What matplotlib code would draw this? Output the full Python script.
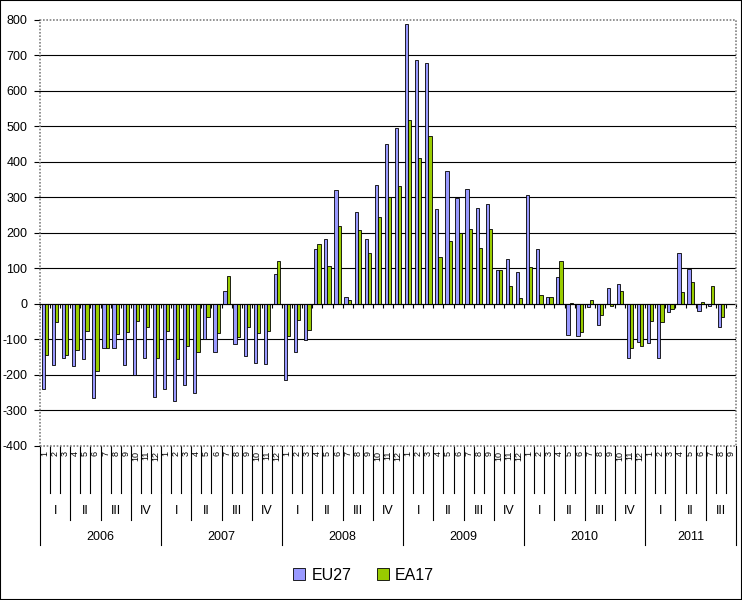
import matplotlib
matplotlib.use("Agg")
import matplotlib.pyplot as plt
import matplotlib.transforms as mtransforms
from matplotlib.patches import Patch, Rectangle
import numpy as np

plt.rcParams['font.family'] = ['Liberation Sans', 'DejaVu Sans']
plt.rcParams['axes.unicode_minus'] = False

# Periodos: anio y cuantos meses tiene cada uno en el grafico
years = [2006, 2007, 2008, 2009, 2010, 2011]
months_per_year = [12, 12, 12, 12, 12, 9]
quarter_names = ['I', 'II', 'III', 'IV']

# Valores mensuales (el ultimo mes no tiene dato)
eu27 = [-239, -172, -151, -176, -154, -266, -125, -123, -172, -201, -153, -263,
        -240, -274, -228, -252, -99, -136, 38, -114, -146, -166, -169, 85,
        -215, -136, -102, 154, 184, 320, 19, 260, 184, 336, 450, 496,
        788, 687, 680, 267, 376, 299, 324, 271, 283, 97, 127, 90,
        306, 155, 19, 76, -87, -89, -9, -58, 44, 57, -153, -107,
        -110, -152, -23, 143, 98, -19, -7, -64, np.nan]
ea17 = [-144, -50, -143, -130, -76, -190, -125, -85, -80, -49, -65, -151,
        -77, -155, -117, -136, -38, -82, 78, -94, -66, -82, -77, 121,
        -91, -45, -73, 168, 106, 221, 10, 208, 144, 244, 300, 332,
        519, 410, 472, 132, 177, 199, 210, 158, 210, 95, 51, 18,
        103, 25, 19, 122, 2, -80, 11, -31, -6, 38, -125, -117,
        -49, -51, -14, 33, 61, 7, 51, -38, np.nan]

blue = '#9999FF'
green = '#99CC00'

fig = plt.figure(figsize=(7.42, 6.0), dpi=100)
W, H = 742, 600


def fy(px):
    return 1 - px / H


ax = fig.add_axes([40 / W, fy(446), (736 - 40) / W, (446 - 20) / H])

n = len(eu27)
x = np.arange(n) + 0.5
bw = 0.32
ax.bar(x - bw / 2, eu27, bw, color=blue, edgecolor='black', linewidth=0.6, zorder=3)
ax.bar(x + bw / 2, ea17, bw, color=green, edgecolor='black', linewidth=0.6, zorder=3)

ax.set_xlim(0, n)
ax.set_ylim(-400, 800)
ax.set_yticks(np.arange(-400, 801, 100))
ax.tick_params(axis='y', direction='out', length=4, width=0.8, labelsize=9, pad=5)
for yv in np.arange(-300, 800, 100):
    ax.axhline(yv, color='black', linewidth=0.8, zorder=1)

# eje de categorias en el cero
ax.spines['bottom'].set_position(('data', 0))
ax.spines['bottom'].set_color('black')
ax.spines['bottom'].set_zorder(4)
ax.set_xticks(np.arange(n + 1))
ax.set_xticklabels([])
ax.tick_params(axis='x', direction='out', length=3, width=0.8)
for s in ['left', 'top', 'right']:
    ax.spines[s].set_visible(False)
ax.add_patch(Rectangle((0, 0), 1, 1, transform=ax.transAxes, fill=False,
                       edgecolor='#808080', linewidth=1.2, linestyle=(0, (1, 1)),
                       clip_on=False, zorder=5))

# etiquetas de varios niveles debajo del grafico
trans = mtransforms.blended_transform_factory(ax.transData, fig.transFigure)
month_labels = []
for cnt in months_per_year:
    month_labels += [str(m) for m in range(1, cnt + 1)]

starts = np.cumsum([0] + months_per_year)
for k in range(n + 1):
    bottom = 493
    if k % 3 == 0 or k == n:
        bottom = 520
    if k in starts:
        bottom = 545
    ax.plot([k, k], [fy(446), fy(bottom)], transform=trans, clip_on=False,
            color='black', linewidth=0.8)

for i, lab in enumerate(month_labels):
    ax.text(i + 0.5, fy(451), lab, transform=trans, rotation=90,
            ha='center', va='top', fontsize=6.5)

for yi, yr in enumerate(years):
    s = starts[yi]
    cnt = months_per_year[yi]
    for q in range(cnt // 3):
        ax.text(s + q * 3 + 1.5, fy(511), quarter_names[q], transform=trans,
                ha='center', va='center', fontsize=9)
    ax.text(s + cnt / 2, fy(537), str(yr), transform=trans,
            ha='center', va='center', fontsize=9)

handles = [Patch(facecolor=blue, edgecolor='black', linewidth=0.6, label='EU27'),
           Patch(facecolor=green, edgecolor='black', linewidth=0.6, label='EA17')]
fig.legend(handles=handles, loc='center', bbox_to_anchor=(0.49, fy(575)), ncol=2,
           frameon=False, fontsize=11.5, handlelength=0.75, handleheight=0.75,
           handletextpad=0.4, columnspacing=1.6)

fig.add_artist(Rectangle((0, 0), 1, 1, transform=fig.transFigure, fill=False,
                         edgecolor='black', linewidth=1.5))

fig.savefig('out.png', dpi=100)
